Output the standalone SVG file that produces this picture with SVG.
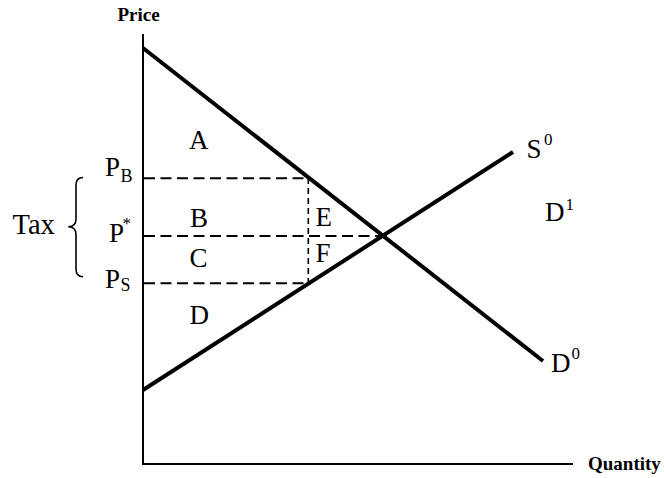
<svg xmlns="http://www.w3.org/2000/svg" width="664" height="478" viewBox="0 0 664 478">
<style>
.lbl{font-family:"Liberation Serif","Times New Roman",serif;font-size:27px;fill:#000}
.tax{font-family:"Liberation Serif","Times New Roman",serif;font-size:28.5px;fill:#000}
.sub{font-family:"Liberation Serif","Times New Roman",serif;font-size:18px;fill:#000}
.sup{font-family:"Liberation Serif","Times New Roman",serif;font-size:17px;fill:#000}
.ax{font-family:"Liberation Serif","Times New Roman",serif;font-size:19px;font-weight:bold;fill:#000}
.axis{stroke:#000;stroke-width:2;fill:none}
.curve{stroke:#000;stroke-width:4;fill:none}
.dash{stroke:#000;stroke-width:2;stroke-dasharray:11 5.5;fill:none}
.vdash{stroke:#000;stroke-width:1.6;stroke-dasharray:6 4;fill:none}
</style>
<rect width="664" height="478" fill="#fff"/>
<g id="axes">
<line class="axis" x1="143" y1="34" x2="143" y2="465"/>
<line class="axis" x1="142" y1="464" x2="573" y2="464"/>
<text class="ax" x="138.5" y="20.5" text-anchor="middle">Price</text>
<text class="ax" x="588" y="469.5">Quantity</text>
</g>
<g id="connectors">
<line class="dash" x1="144" y1="178.3" x2="308" y2="178.3"/>
<line class="dash" x1="144" y1="236" x2="383" y2="236"/>
<line class="dash" x1="144" y1="283.3" x2="308" y2="283.3"/>
<line class="vdash" x1="308.3" y1="178" x2="308.3" y2="283.3"/>
</g>
<g id="demand">
<line class="curve" x1="143" y1="48" x2="543" y2="361"/>
<text class="lbl" x="551" y="371.5">D</text>
<text class="sup" x="571.5" y="359">0</text>
</g>
<g id="supply">
<line class="curve" x1="143" y1="390" x2="513" y2="152"/>
<text class="lbl" x="526.5" y="158">S</text>
<text class="sup" x="544" y="145">0</text>
</g>
<g id="d1">
<text class="lbl" x="545" y="221">D</text>
<text class="sup" x="565.5" y="210">1</text>
</g>
<g id="areas">
<text class="lbl" x="189" y="149">A</text>
<text class="lbl" x="190" y="227">B</text>
<text class="lbl" x="189.5" y="266.5">C</text>
<text class="lbl" x="189.5" y="323.5">D</text>
<text class="lbl" x="315.5" y="226">E</text>
<text class="lbl" x="315.5" y="261.5">F</text>
</g>
<g id="prices">
<text class="lbl" x="105" y="176">P</text>
<text class="sub" x="120.5" y="181.5">B</text>
<text class="lbl" x="109" y="242">P</text>
<text class="sup" x="122.5" y="229">*</text>
<text class="lbl" x="105" y="287.5">P</text>
<text class="sub" x="120.5" y="291">S</text>
</g>
<g id="tax">
<text class="tax" x="12.5" y="234">Tax</text>
<path d="M83 177.5 Q76 177.5 76 185 L76 219 Q76 226.7 68.3 226.7 Q76 226.7 76 234.5 L76 269 Q76 276.7 83 276.7" fill="none" stroke="#000" stroke-width="1.6"/>
</g>
</svg>
